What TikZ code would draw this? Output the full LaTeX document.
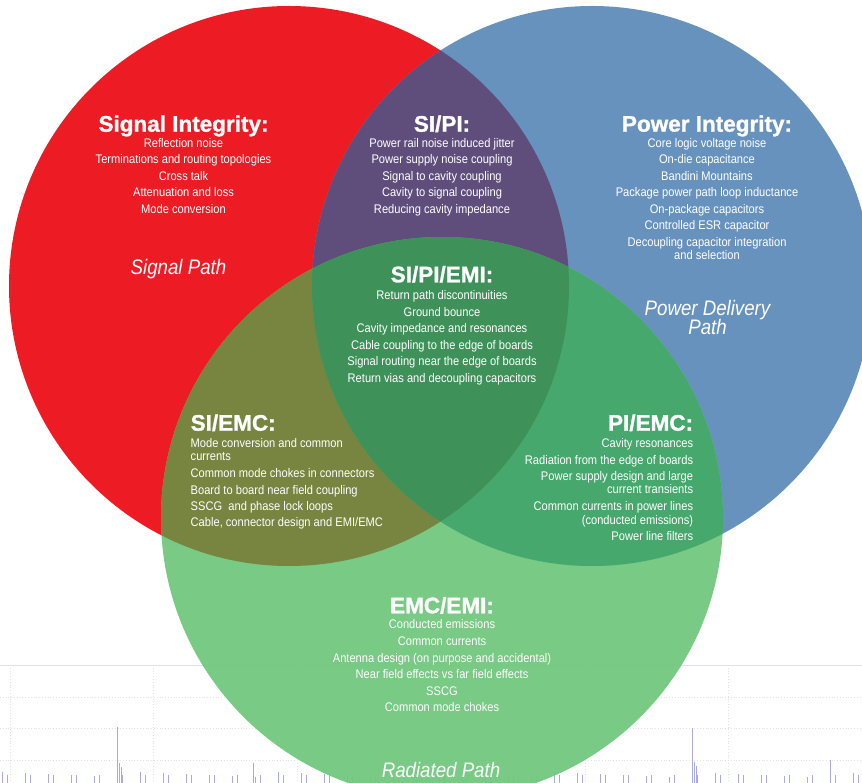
\documentclass[tikz,border=0pt]{standalone}
\usepackage{fontspec}
\setmainfont{Liberation Sans}
\newfontfamily\condfont[FakeStretch=0.89]{Liberation Sans}
\newfontfamily\heavyfont[FakeBold=1.2]{Liberation Sans Bold}
\definecolor{cRed}{HTML}{ED1C24}
\definecolor{cBlue}{HTML}{6792BE}
\definecolor{cGreen}{HTML}{74C880}
\definecolor{cPurple}{HTML}{5F4E7C}
\definecolor{cOlive}{HTML}{778540}
\definecolor{cTeal}{HTML}{46A86C}
\definecolor{cCenter}{HTML}{3F915A}
\definecolor{cGrid}{HTML}{E2E2E2}
\definecolor{cSpike}{HTML}{A8A8F0}
\tikzset{
  ttl/.style={text=white, font=\heavyfont\fontsize{22.5}{24}\selectfont, inner sep=0pt, anchor=base},
  itm/.style={text=white, font=\condfont\fontsize{12.5}{14}\selectfont, inner sep=0pt, anchor=base},
  pth/.style={text=white, font=\condfont\itshape\fontsize{21}{24}\selectfont, inner sep=0pt, anchor=base},
  gridline/.style={draw=cGrid, line width=0.8pt, dotted},
  spike/.style={draw=cSpike, line width=0.9pt}
}
\begin{document}
\begin{tikzpicture}[x=1pt,y=-1pt]
\useasboundingbox (0,0) rectangle (862,783);
\clip (0,0) rectangle (862,783);
% faint spectrum background
\draw[cGrid, line width=1pt] (0,665) -- (862,665);
\foreach \gx in {10,153,297,440,585,728} {\draw[gridline] (\gx,665) -- (\gx,783);}
\foreach \gy in {697,728,760} {\draw[gridline] (0,\gy) -- (862,\gy);}
\foreach \k in {0,...,37} {
  \pgfmathsetmacro{\sx}{2+23*\k}
  \pgfmathsetmacro{\ha}{772+mod(\k*7,6)}
  \pgfmathsetmacro{\hb}{775+mod(\k*5,5)}
  \draw[spike] (\sx,783) -- (\sx,\ha);
  \draw[spike] (\sx+5,783) -- (\sx+5,\hb);
}
\draw[spike] (117,783) -- (117,727);
\draw[spike] (119,783) -- (119,763);
\draw[spike] (121,783) -- (121,767);
\draw[spike] (253,783) -- (253,763);
\draw[spike] (692,783) -- (692,728);
\draw[spike] (694,783) -- (694,762);
\draw[spike] (696,783) -- (696,766);
\draw[spike] (830,783) -- (830,760);
% circles
\fill[cRed] (289,286) circle[radius=280pt];
\fill[cBlue] (592,286) circle[radius=280pt];
\fill[cGreen, opacity=0.97] (442,518) circle[radius=281pt];
\begin{scope}
  \clip (289,286) circle[radius=280pt];
  \fill[cPurple] (592,286) circle[radius=280pt];
  \fill[cOlive] (442,518) circle[radius=281pt];
\end{scope}
\begin{scope}
  \clip (592,286) circle[radius=280pt];
  \fill[cTeal] (442,518) circle[radius=281pt];
\end{scope}
\begin{scope}
  \clip (289,286) circle[radius=280pt];
  \clip (592,286) circle[radius=280pt];
  \fill[cCenter] (442,518) circle[radius=281pt];
\end{scope}
% Signal Integrity
\node[ttl] (siT) at (183.5,131.7) {Signal Integrity:};
\foreach \t/\y [count=\i] in {Reflection noise/147.5, Terminations and routing topologies/164, Cross talk/180.3, Attenuation and loss/197, Mode conversion/213.3}
  {\node[itm] (si\i) at (183.5,\y) {\t};}
\node[pth] (siP) at (178.5,275) {Signal Path};
% SI/PI
\node[ttl] (sipiT) at (442,131.7) {SI/PI:};
\foreach \t/\y [count=\i] in {Power rail noise induced jitter/147.5, Power supply noise coupling/164, Signal to cavity coupling/180.3, Cavity to signal coupling/197, Reducing cavity impedance/213.3}
  {\node[itm] (sipi\i) at (442,\y) {\t};}
% Power Integrity
\node[ttl] (piT) at (707,131.7) {Power Integrity:};
\foreach \t/\y [count=\i] in {Core logic voltage noise/147.5, On-die capacitance/164, Bandini Mountains/180.5, Package power path loop inductance/196.8, On-package capacitors/213.3, Controlled ESR capacitor/230, Decoupling capacitor integration/246.7, and selection/260}
  {\node[itm] (pi\i) at (707,\y) {\t};}
\node[pth] (piP1) at (707.5,316) {Power Delivery};
\node[pth] (piP2) at (707.5,335) {Path};
% SI/PI/EMI
\node[ttl] (allT) at (442,282.3) {SI/PI/EMI:};
\foreach \t/\y [count=\i] in {Return path discontinuities/300, Ground bounce/316.7, Cavity impedance and resonances/332.9, Cable coupling to the edge of boards/349.4, Signal routing near the edge of boards/366, Return vias and decoupling capacitors/382.7}
  {\node[itm] (all\i) at (442,\y) {\t};}
% SI/EMC
\node[ttl, anchor=base west] (siemcT) at (190.5,430.7) {SI/EMC:};
\foreach \t/\y [count=\i] in {Mode conversion and common/447.3, currents/460.7, Common mode chokes in connectors/477.3, Board to board near field coupling/494, SSCG\ \ and phase lock loops/510.7, {Cable, connector design and EMI/EMC}/526.7}
  {\node[itm, anchor=base west] (siemc\i) at (190.5,\y) {\t};}
% PI/EMC
\node[ttl, anchor=base east] (piemcT) at (693.3,430.7) {PI/EMC:};
\foreach \t/\y [count=\i] in {Cavity resonances/447.3, Radiation from the edge of boards/464, Power supply design and large/480.7, current transients/493.7, Common currents in power lines/510.7, (conducted emissions)/524, Power line filters/540.3}
  {\node[itm, anchor=base east] (piemc\i) at (693.3,\y) {\t};}
% EMC/EMI
\node[ttl] (emcT) at (442,613.3) {EMC/EMI:};
\foreach \t/\y [count=\i] in {Conducted emissions/628.3, Common currents/645, Antenna design (on purpose and accidental)/662, Near field effects vs far field effects/678.5, SSCG/695, Common mode chokes/711.3}
  {\node[itm] (emc\i) at (442,\y) {\t};}
\node[pth] (emcP) at (441,777.5) {Radiated Path};
\end{tikzpicture}
\end{document}
